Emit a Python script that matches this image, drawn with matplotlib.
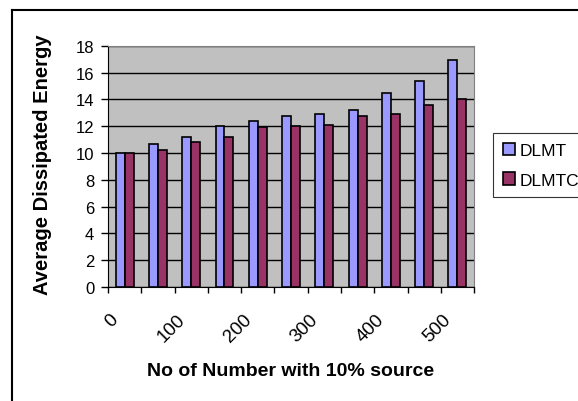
import numpy as np
import matplotlib
matplotlib.use("Agg")
import matplotlib.pyplot as plt
from matplotlib.lines import Line2D

plt.rcParams['font.family'] = ['Liberation Sans', 'DejaVu Sans']

# data
categories = [0, 50, 100, 150, 200, 250, 300, 350, 400, 450, 500]
tick_labels = ['0', '', '100', '', '200', '', '300', '', '400', '', '500']
dlmt = [10.0, 10.65, 11.2, 12.0, 12.4, 12.75, 12.9, 13.2, 14.5, 15.35, 16.95]
dlmtc = [10.0, 10.25, 10.8, 11.2, 11.9, 12.0, 12.1, 12.75, 12.9, 13.6, 14.0]

fig = plt.figure(figsize=(5.78, 4.02), dpi=100)
ax = fig.add_axes([0.1869, 0.2836, 0.6333, 0.6002])

x = np.arange(len(categories))
w = 0.27
ax.bar(x - w / 2, dlmt, w, color='#9999FF', edgecolor='black', linewidth=1.2, label='DLMT', zorder=3)
ax.bar(x + w / 2, dlmtc, w, color='#993366', edgecolor='black', linewidth=1.2, label='DLMTC', zorder=3)

ax.set_facecolor('#C0C0C0')
ax.set_xlim(-0.5, len(categories) - 0.5)
ax.set_ylim(0, 18)
ax.set_yticks(np.arange(0, 19, 2))
ax.yaxis.grid(True, color='black', linewidth=1, zorder=1)

# ticks at category boundaries, labels slightly left of centres
ax.set_xticks(np.arange(-0.5, len(categories)), minor=False)
ax.set_xticklabels([])
ax.set_xticks(x - 0.45, minor=True)
ax.set_xticklabels(tick_labels, minor=True, rotation=45, ha='right',
                   rotation_mode='anchor', fontsize=13.5)
ax.tick_params(axis='x', which='minor', length=0, pad=17)
ax.tick_params(axis='x', which='major', length=4, width=1, direction='out')
ax.tick_params(axis='y', length=5, width=1, labelsize=12, pad=5)

for s in ['top', 'right']:
    ax.spines[s].set_color('#808080')
for s in ['left', 'bottom']:
    ax.spines[s].set_color('black')

ax.set_ylabel('Average Dissipated Energy', fontsize=14.5, fontweight='bold')
ax.yaxis.set_label_coords(-0.152, 0.513)
ax.set_xlabel('No of Number with 10% source', fontsize=14, fontweight='bold')
ax.xaxis.set_label_coords(0.5, -0.31)

leg = fig.legend(loc='upper left', bbox_to_anchor=(493 / 578, 1 - 134 / 402),
                 frameon=True, fancybox=False, edgecolor='black', fontsize=12.5,
                 handlelength=0.7, handleheight=0.7, handletextpad=0.3,
                 borderpad=0.55, labelspacing=0.85, borderaxespad=0)
leg.get_frame().set_linewidth(0.8)

# outer chart border (left and top visible)
fig.add_artist(Line2D([12 / 578, 12 / 578], [0, 1 - 11 / 402], color='black', linewidth=1.5))
fig.add_artist(Line2D([12 / 578, 1], [1 - 11 / 402, 1 - 11 / 402], color='black', linewidth=1.5))

fig.savefig('out.png', dpi=100)
